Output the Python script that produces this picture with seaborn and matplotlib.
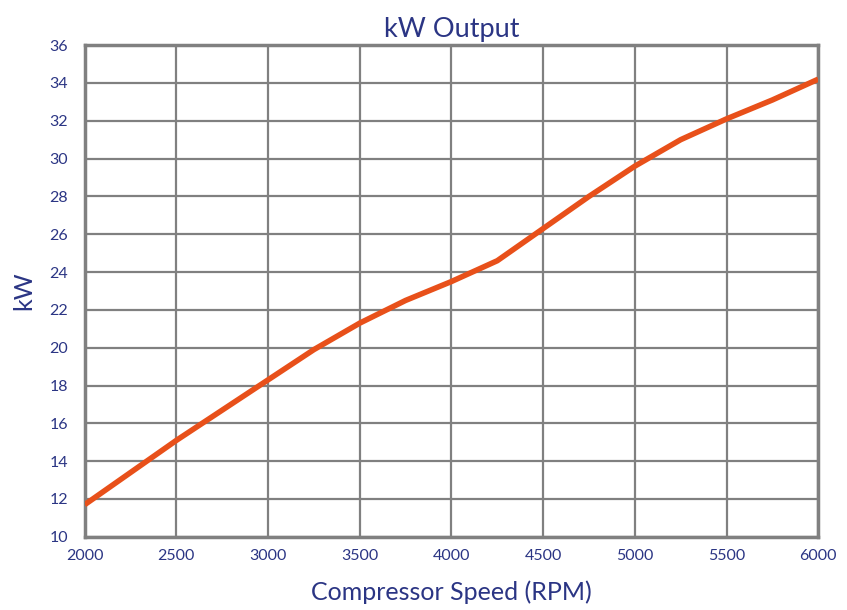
import pandas as pd
import seaborn as sns
import matplotlib.pyplot as plt

# values
rpm = [2000, 2250, 2500, 2750, 3000, 3250, 3500, 3750, 4000, 4250, 4500, 4750, 5000, 5250, 5500, 5750, 6000]
kw = [11.7, 13.4, 15.1, 16.7, 18.3, 19.9, 21.3, 22.5, 23.5, 24.6, 26.3, 28.0, 29.6, 31.0, 32.1, 33.1, 34.2]
x_ticks = [2000, 2500, 3000, 3500, 4000, 4500, 5000, 5500, 6000]
y_ticks = list(range(10, 37, 2))

NAVY = "#2b3584"
GRID = "#808080"
LINE = "#e8501a"

sns.set_theme(style="white")
plt.rcParams["font.family"] = ["Lato", "DejaVu Sans"]

df = pd.DataFrame({"rpm": rpm, "kw": kw})

fig = plt.figure(figsize=(8.47, 6.10), dpi=100)
ax = fig.add_axes([0.100, 0.120, 0.866, 0.806])

sns.lineplot(data=df, x="rpm", y="kw", ax=ax, color=LINE, linewidth=4,
             solid_capstyle="butt", solid_joinstyle="round", zorder=3)

ax.set_xlim(2000, 6000)
ax.set_ylim(10, 36)
ax.set_xticks(x_ticks)
ax.set_yticks(y_ticks)
ax.grid(True, color=GRID, linewidth=1.6)
for s in ax.spines.values():
    s.set_color(GRID)
    s.set_linewidth(2.5)

ax.tick_params(axis="both", colors=NAVY, labelsize=11.5, length=0)
ax.tick_params(axis="x", pad=9)
ax.tick_params(axis="y", pad=12)

ax.set_title("kW Output", color=NAVY, fontsize=19.5, pad=6)
ax.set_xlabel("Compressor Speed (RPM)", color=NAVY, fontsize=18, labelpad=12)
ax.set_ylabel("kW", color=NAVY, fontsize=18, labelpad=10)

plt.savefig("out.png", dpi=100)
